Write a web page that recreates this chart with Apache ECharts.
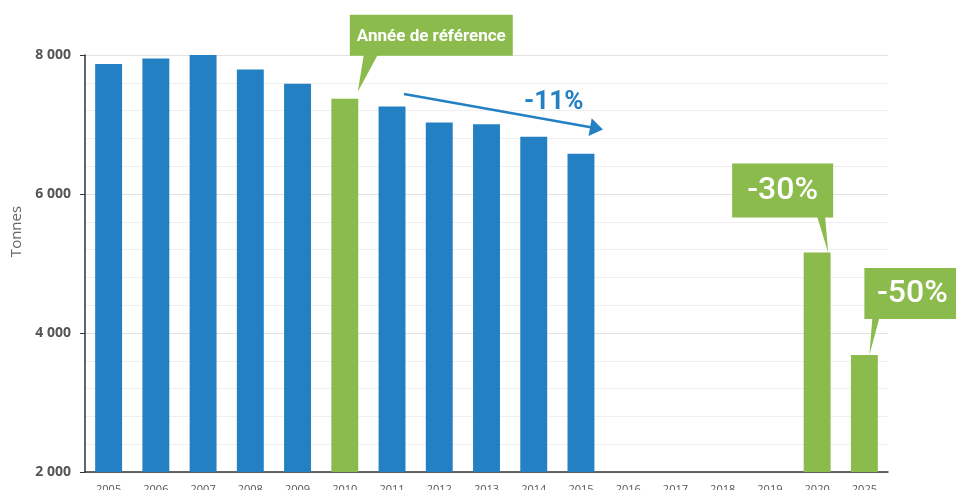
<!DOCTYPE html>
<html lang="fr">
<head>
<meta charset="UTF-8">
<title>Tonnes</title>
<script src="https://cdn.jsdelivr.net/npm/echarts@6/dist/echarts.min.js"></script>
<style>
  body { margin: 0; background: #fff; }
</style>
</head>
<body>
<div id="main" style="width: 956px;height:490px;"></div>
<script>
var annees = ['2005','2006','2007','2008','2009','2010','2011','2012','2013','2014','2015','2016','2017','2018','2019','2020','2025'];
var tonnes = [7870, 7950, 8005, 7790, 7585, 7370, 7260, 7030, 7005, 6825, 6580, null, null, null, null, 5160, 3685];
var objectifs = ['2010', '2020', '2025'];
var yTicks = [2000, 4000, 6000, 8000];

var BLEU = '#2381c3';
var VERT = '#8cbb4d';

var myChart = echarts.init(document.getElementById('main'));

var data = tonnes.map(function (v, i) {
    return {
        value: v,
        itemStyle: { color: objectifs.indexOf(annees[i]) >= 0 ? VERT : BLEU }
    };
});

var option = {
    animation: false,
    grid: { left: 85, right: 68, top: 55, bottom: 18, outerBoundsMode: 'none' },
    xAxis: {
        type: 'category',
        data: annees,
        axisLine: { lineStyle: { color: '#333', width: 1.5 } },
        axisTick: { length: 5, lineStyle: { color: '#333' } },
        axisLabel: { margin: 12, color: '#555', fontSize: 11, fontFamily: 'Open Sans' }
    },
    yAxis: {
        type: 'value',
        min: yTicks[0],
        max: yTicks[yTicks.length - 1],
        interval: 2000,
        name: 'Tonnes',
        nameLocation: 'middle',
        nameGap: 58,
        nameTextStyle: { color: '#666', fontSize: 15, fontFamily: 'Open Sans', padding: [0, 0, 0, 64] },
        axisLine: { show: true, lineStyle: { color: '#333', width: 1.5 } },
        axisTick: { show: true, length: 5, lineStyle: { color: '#333' } },
        axisLabel: {
            color: '#555', fontSize: 14, fontWeight: 'bold', fontFamily: 'Open Sans', margin: 14,
            formatter: function (v) { return String(v).replace(/\B(?=(\d{3})+(?!\d))/g, ' '); }
        },
        splitLine: { lineStyle: { color: '#e2e2e2' } },
        minorTick: { show: false, splitNumber: 5 },
        minorSplitLine: { show: true, lineStyle: { color: '#efefef' } }
    },
    series: [{
        type: 'bar',
        data: data,
        barWidth: '57%'
    }]
};

myChart.setOption(option);

// bulles et flèche, positionnées à partir des barres
function px(cat, v) {
    return myChart.convertToPixel({ seriesIndex: 0 }, [cat, v]);
}

function bulle(cat, dx0, dx1, dy0, dy1, base0, base1, tip, texte, style) {
    var v = tonnes[annees.indexOf(cat)];
    var p = px(cat, v);
    var x0 = p[0] + dx0, x1 = p[0] + dx1, y0 = p[1] + dy0, y1 = p[1] + dy1;
    return [
        { type: 'rect', shape: { x: x0, y: y0, width: x1 - x0, height: y1 - y0 }, style: { fill: VERT }, z: 100 },
        { type: 'polygon', shape: { points: [[p[0] + base0, y1 - 1], [p[0] + base1, y1 - 1], [p[0] + tip[0], p[1] + tip[1]]] }, style: { fill: VERT }, z: 100 },
        { type: 'text', x: (x0 + x1) / 2, y: (y0 + y1) / 2 + 1, style: Object.assign({ text: texte, fill: '#fff', align: 'center', verticalAlign: 'middle', fontFamily: 'Roboto' }, style), z: 101 }
    ];
}

var g = [];
g = g.concat(bulle('2010', 5, 168, -84, -43, 19, 33, [13, -7], 'Année de référence', { fontSize: 17, fontWeight: 'bold' }));
g = g.concat(bulle('2020', -85, 16, -89, -35, 0, 8, [11, 0], '-30%', { fontSize: 32, fontWeight: 500 }));
g = g.concat(bulle('2025', 0, 96, -87, -36, 8, 15, [5, 0], '-50%', { fontSize: 32, fontWeight: 500 }));

// flèche -11 %
var a = px('2011', 7440); a[0] += 12;
var b = px('2015', 6936); b[0] += 19;
var ang = Math.atan2(b[1] - a[1], b[0] - a[0]);
var tipP = [b[0] + 3 * Math.cos(ang), b[1] + 3 * Math.sin(ang)];
var back = [tipP[0] - 13 * Math.cos(ang), tipP[1] - 13 * Math.sin(ang)];
var nx = -Math.sin(ang), ny = Math.cos(ang);
g.push({ type: 'line', shape: { x1: a[0], y1: a[1], x2: back[0] + 2 * Math.cos(ang), y2: back[1] + 2 * Math.sin(ang) }, style: { stroke: BLEU, lineWidth: 2.5 }, z: 100 });
g.push({ type: 'polygon', shape: { points: [tipP, [back[0] + 9 * nx, back[1] + 9 * ny], [back[0] - 9 * nx, back[1] - 9 * ny]] }, style: { fill: BLEU }, z: 100 });
var t = px('2014', 7400);
g.push({ type: 'text', x: t[0] + 20, y: 102, style: { text: '-11%', fill: BLEU, fontSize: 26, fontWeight: 'bold', fontFamily: 'Roboto', align: 'center', verticalAlign: 'middle' }, z: 101 });

myChart.setOption({ graphic: g });
</script>
</body>
</html>
